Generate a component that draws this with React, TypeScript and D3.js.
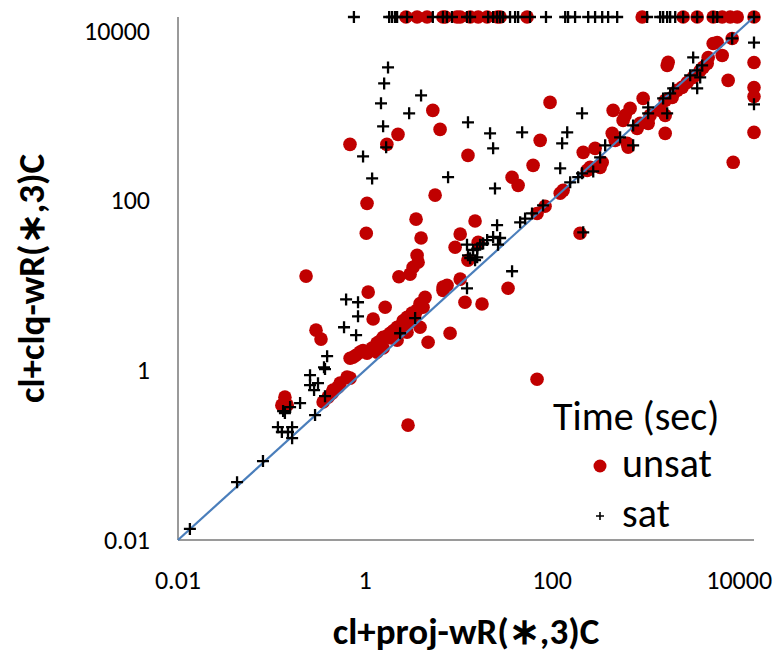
import React from "react";
import * as d3 from "d3";

const TIMEOUT = 14400;
const tickValues = [0.01, 1, 100, 10000];
const xTitle = "cl+proj-wR(\u2217,3)C";
const yTitle = "cl+clq-wR(\u2217,3)C";
const legendTitle = "Time (sec)";
const seriesNames = ["unsat", "sat"];

// unsat runs that timed out on the y solver (x value, y = timeout)
const unsatTopX = [2.74, 3.6, 4.6, 6.8, 7.2, 9.6, 10.4, 13.3, 16.2, 20.2, 26, 27.8, 54, 918, 2518, 3556, 5272, 6580, 8017, 9530, 14400];
// unsat runs that timed out on the x solver (y value)
const unsatRightY = [4200, 2130, 1670, 630];
const unsatPts: [number, number][] = [
  [8410, 8050], [5820, 7220], [5270, 7030], [6580, 5080], [4660, 4810], [4550, 4090], [4120, 3670], [3830, 3380],
  [1740, 4210], [1700, 3870], [7620, 2580], [3220, 2800], [2780, 2440], [2455, 2135], [2170, 1970], [1920, 1630],
  [1620, 1500], [1430, 1145], [940, 1585], [682, 1208], [604, 1000], [574, 873], [449, 1145], [1117, 1000],
  [1064, 805], [873, 805], [811, 703], [1618, 1000], [1618, 614], [439, 614], [472, 508], [634, 469], [650, 421],
  [215, 367], [288, 409], [343, 280], [326, 244], [255, 244], [237, 225], [131, 131], [122, 121], [95, 1422],
  [74.5, 508], [62.6, 258], [37.3, 187], [43.3, 150], [12.6, 338], [84, 85], [69, 70], [199, 41], [8630, 280],
  [5.61, 115], [3.51, 60], [15, 57], [10.4, 40], [3.97, 36], [9.18, 28], [16.2, 32], [3.6, 22.5], [3.69, 18.7],
  [3.26, 16.3], [3.03, 13.5], [12.6, 19.7], [10.4, 11.8], [7.53, 10], [6.82, 9.5], [33.8, 9.2], [4.38, 7.2],
  [11.7, 6.3], [17.8, 6.0], [2.3, 12.6], [1.05, 92], [1.03, 41], [0.234, 12.8], [1.08, 8.3], [1.64, 5.5],
  [1.22, 4.0], [4.72, 2.13], [8.11, 2.72], [0.299, 2.96], [0.338, 2.32],
  [3.87, 6.1], [3.6, 5.1], [3.18, 4.7], [2.81, 4.2], [2.55, 3.8], [2.2, 3.2], [1.85, 2.72], [1.56, 2.44],
  [1.34, 2.08], [1.19, 1.82], [1.05, 1.58], [0.885, 1.63], [0.745, 1.42], [0.692, 1.38], [3.87, 3.2], [2.81, 2.8],
  [2.2, 2.25], [1.56, 1.82], [1.34, 1.63], [3.03, 3.7], [4.17, 5.5], [2.5, 3.4], [2.0, 2.9], [1.7, 2.5],
  [1.45, 2.2], [3.4, 4.4], [3.0, 3.9], [4.0, 5.8], [2.6, 3.0], [1.9, 2.4], [0.8, 1.5], [0.95, 1.7],
  [0.642, 0.828], [0.541, 0.703], [0.455, 0.582], [0.402, 0.481], [0.356, 0.421], [0.444, 0.536], [0.514, 0.631],
  [0.692, 0.805], [0.139, 0.481], [0.129, 0.387], [0.147, 0.387], [2.88, 0.225], [69, 0.78], [6.82, 8.7],
  [0.69, 456], [1.71, 456], [2.25, 597], [5.3, 1145], [6.34, 684],
];

// sat runs that timed out on the y solver
const satTopX = [0.76, 1.81, 1.94, 2.09, 2.2, 2.81, 5.3, 6.8, 7.5, 8.5, 12.3, 13.3, 20.7, 23.4, 25.8, 27.8, 29.9,
  35.5, 40.2, 43.3, 58, 86, 138, 148, 176, 243, 288, 343, 397, 496, 1037, 1429, 1538, 1698, 1828, 2070, 2518,
  3556, 5272, 5823, 14400];
const satRightY = [7200, 1350];
const satPts: [number, number][] = [
  [12.6, 828], [21.7, 614], [23.4, 409], [47.8, 631], [145, 631], [128, 469], [209, 1056], [122, 238], [24.5, 138],
  [156, 163], [190, 187], [209, 208], [275, 219], [326, 320], [369, 444], [533, 551], [735, 444], [735, 762],
  [1064, 1242], [1064, 1056], [1698, 1056], [1538, 1585], [1828, 1815], [1968, 2080], [2992, 2958], [3556, 3380],
  [3828, 2800], [3556, 2080], [4019, 3870], [3222, 4810], [8410, 8050], [7.72, 187], [80, 87], [61, 70],
  [51.4, 61], [45.5, 55], [25.8, 51], [27.8, 36], [26.4, 30], [23.4, 37], [20.2, 34], [18.3, 31], [17, 30],
  [15.8, 27], [12.3, 30], [12.6, 22.5], [13.3, 20.8], [15.8, 21.3], [15, 19.7], [14.3, 26], [215, 42],
  [37.3, 14.6], [12.3, 9.2], [0.627, 6.8], [0.841, 6.3], [0.841, 4.3], [0.596, 3.2], [0.802, 2.58], [0.393, 1.46],
  [0.364, 1.08], [0.373, 1.03], [0.258, 0.873], [0.258, 0.667], [0.314, 0.703], [0.285, 0.582], [0.373, 0.494],
  [0.202, 0.409], [0.158, 0.367], [0.133, 0.33], [0.139, 0.312], [0.292, 0.296], [0.117, 0.213], [0.166, 0.213],
  [0.129, 0.187], [0.15, 0.187], [0.166, 0.158], [2.37, 2.72], [3.43, 4.1], [0.081, 0.085], [0.0428, 0.048],
  [0.0134, 0.0135], [1.76, 3670], [1.6, 2380], [1.48, 1385], [1.56, 743], [1.68, 421], [0.952, 329], [1.19, 181],
  [3.97, 1718], [2.96, 1056],
];

const W = 781, H = 656;
const FONT = "Carlito, Calibri, Lato, sans-serif";
const RED = "#C00000";

export default function App() {
  const x = d3.scaleLog().domain([0.01, TIMEOUT]).range([178, 754]);
  const y = d3.scaleLog().domain([0.01, TIMEOUT]).range([540, 17]);

  const unsat: [number, number][] = [
    ...unsatPts,
    ...unsatTopX.map((v) => [v, TIMEOUT] as [number, number]),
    ...unsatRightY.map((v) => [TIMEOUT, v] as [number, number]),
  ];
  const sat: [number, number][] = [
    ...satPts,
    ...satTopX.map((v) => [v, TIMEOUT] as [number, number]),
    ...satRightY.map((v) => [TIMEOUT, v] as [number, number]),
  ];
  const diag = d3.line<number>().x((d) => x(d)).y((d) => y(d))([0.01, TIMEOUT]) || "";
  const plus = (cx: number, cy: number, s: number) => `M${cx - s},${cy}H${cx + s}M${cx},${cy - s}V${cy + s}`;

  return (
    <svg width={W} height={H} style={{ position: "absolute", left: 0, top: 0, background: "#fff" }} fontFamily={FONT}>
      <rect width={W} height={H} fill="#fff" />
      {/* axes */}
      <line x1={x(0.01)} x2={x(0.01)} y1={y(TIMEOUT)} y2={y(0.01)} stroke="#9a9a9a" strokeWidth={2} />
      <line x1={x(0.01)} x2={x(TIMEOUT)} y1={y(0.01)} y2={y(0.01)} stroke="#9a9a9a" strokeWidth={2} />
      {tickValues.map((t) => (
        <text key={"y" + t} x={150} y={y(t)} dy="0.35em" textAnchor="end" fontSize={26} fill="#000">
          {String(t)}
        </text>
      ))}
      {tickValues.map((t) => (
        <text key={"x" + t} x={x(t)} y={580} dy="0.35em" textAnchor="middle" fontSize={26} fill="#000">
          {String(t)}
        </text>
      ))}
      {/* data */}
      <g fill={RED}>
        {unsat.map((d, i) => (
          <circle key={i} cx={x(d[0])} cy={y(d[1])} r={6.8} />
        ))}
      </g>
      <path d={diag} stroke="#4A7EBB" strokeWidth={2.2} fill="none" />
      <g stroke="#000" strokeWidth={2.3} fill="none">
        {sat.map((d, i) => (
          <path key={i} d={plus(x(d[0]), y(d[1]), 6)} />
        ))}
      </g>
      {/* titles */}
      <text x={(x(0.01) + x(TIMEOUT)) / 2} y={644} textAnchor="middle" fontSize={37} fontWeight="bold">
        {xTitle}
      </text>
      <text transform={`translate(44,${(y(0.01) + y(TIMEOUT)) / 2}) rotate(-90)`} textAnchor="middle" fontSize={37} fontWeight="bold">
        {yTitle}
      </text>
      {/* legend */}
      <text x={553} y={430} fontSize={40}>{legendTitle}</text>
      <circle cx={600} cy={466} r={6.5} fill={RED} />
      <text x={622} y={477} fontSize={40}>{seriesNames[0]}</text>
      <path d={plus(600, 516, 4)} stroke="#000" strokeWidth={1.6} />
      <text x={622} y={527} fontSize={40}>{seriesNames[1]}</text>
    </svg>
  );
}
